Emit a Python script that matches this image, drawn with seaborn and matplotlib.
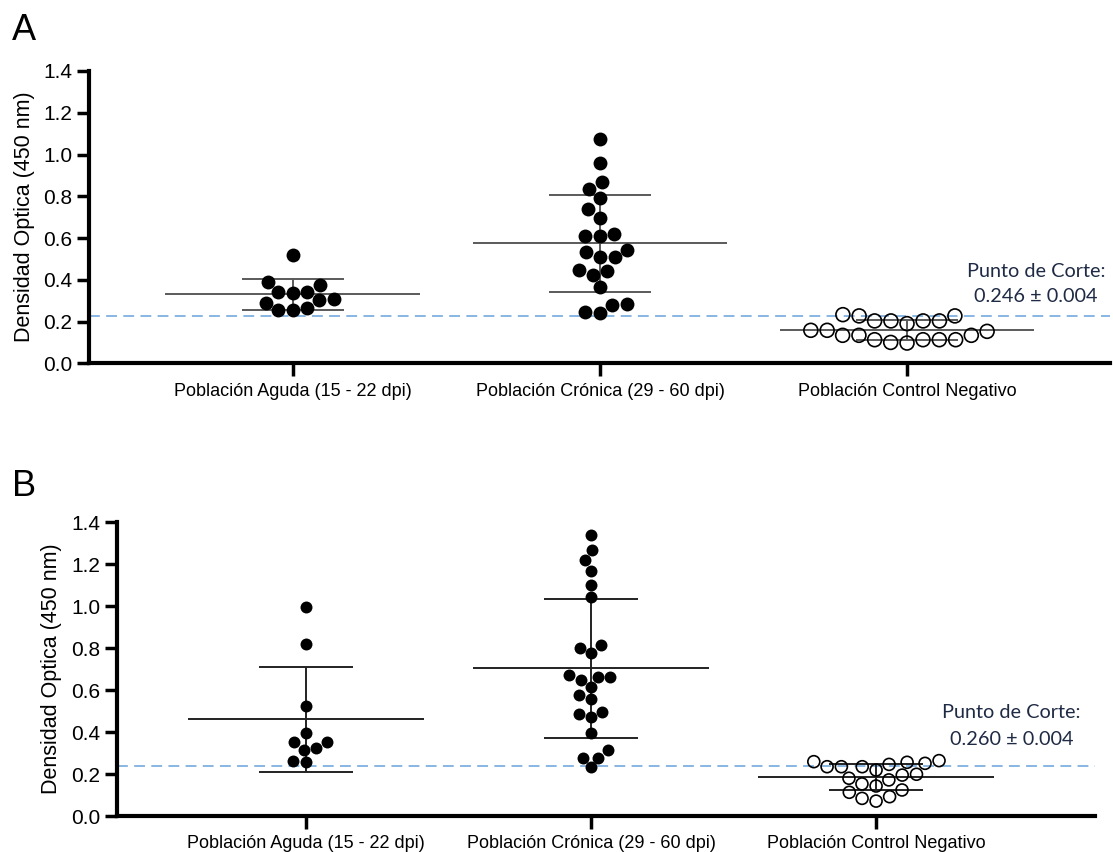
import numpy as np
import pandas as pd
import matplotlib
matplotlib.use("Agg")
import matplotlib.pyplot as plt
import seaborn as sns

# grupos y valores (densidad optica, 450 nm)
grupos = [
    "Población Aguda (15 - 22 dpi)",
    "Población Crónica (29 - 60 dpi)",
    "Población Control Negativo",
]

aguda_a = [0.52, 0.302, 0.289, 0.374, 0.264, 0.342, 0.307, 0.39, 0.257, 0.34, 0.337, 0.254]
cronica_a = [1.072, 0.957, 0.868, 0.836, 0.791, 0.737, 0.698, 0.61, 0.617, 0.61, 0.542,
             0.51, 0.51, 0.534, 0.425, 0.446, 0.443, 0.366, 0.283, 0.281, 0.246, 0.243]
control_a = [0.113, 0.113, 0.113, 0.227, 0.203, 0.158, 0.203, 0.113, 0.203, 0.153,
             0.233, 0.134, 0.203, 0.158, 0.227, 0.134, 0.19, 0.097, 0.134, 0.10]

aguda_b = [0.998, 0.818, 0.526, 0.397, 0.351, 0.351, 0.323, 0.315, 0.262, 0.259]
cronica_b = [1.341, 1.268, 1.22, 1.169, 1.102, 1.045, 0.815, 0.802, 0.778, 0.664, 0.648,
             0.672, 0.664, 0.616, 0.556, 0.577, 0.497, 0.473, 0.486, 0.397, 0.315,
             0.278, 0.275, 0.232]
control_b = [0.251, 0.246, 0.235, 0.219, 0.256, 0.264, 0.259, 0.235, 0.235, 0.195,
             0.18, 0.199, 0.172, 0.143, 0.153, 0.124, 0.113, 0.092, 0.084, 0.071]

corte_a = 0.228
corte_b = 0.238
texto_corte_a = "0.246 ± 0.004"
texto_corte_b = "0.260 ± 0.004"
y_ticks = [0.0, 0.2, 0.4, 0.6, 0.8, 1.0, 1.2, 1.4]

sns.set_style("ticks", {"axes.edgecolor": "black", "text.color": "black",
                        "axes.labelcolor": "black", "xtick.color": "black",
                        "ytick.color": "black"})
plt.rcParams["font.family"] = ["Liberation Sans", "DejaVu Sans"]


def plot_panel(ax, valores, corte, texto, line_color, marker_size, xlim, texto_x, texto_y):
    df = pd.DataFrame({
        "grupo": np.repeat(grupos, [len(v) for v in valores]),
        "valor": np.concatenate(valores),
    })
    sns.swarmplot(data=df, x="grupo", y="valor", order=grupos, color="black",
                  size=marker_size, ax=ax, zorder=3, warn_thresh=1)
    # control negativo con circulos vacios
    col = ax.collections[2]
    col.set_facecolor("none")
    col.set_edgecolor("black")
    col.set_linewidth(1.2)

    # media +- desviacion estandar
    stats = df.groupby("grupo")["valor"].agg(["mean", "std"]).reindex(grupos)
    for i, g in enumerate(grupos):
        m, s = stats.loc[g, "mean"], stats.loc[g, "std"]
        ax.hlines(m, i - 0.415, i + 0.415, color=line_color, lw=1.4, zorder=2)
        ax.vlines(i, m - s, m + s, color=line_color, lw=1.4, zorder=2)
        ax.hlines([m - s, m + s], i - 0.165, i + 0.165, color=line_color, lw=1.4, zorder=2)

    ax.axhline(corte, color="#7fb0e0", ls=(0, (6, 3.5)), lw=1.3, zorder=1)
    ax.text(texto_x, texto_y[0], "Punto de Corte:", ha="center", va="center",
            fontsize=14.3, color="#1f2a44", family=["Lato", "DejaVu Sans"])
    ax.text(texto_x, texto_y[1], texto, ha="center", va="center",
            fontsize=14.3, color="#1f2a44", family=["Lato", "DejaVu Sans"])

    ax.set_ylim(0, 1.4)
    ax.set_xlim(*xlim)
    ax.set_yticks(y_ticks)
    ax.set_yticklabels([f"{t:.1f}" for t in y_ticks], fontsize=15)
    ax.tick_params(axis="x", labelsize=13, length=9, width=2.5, pad=5)
    ax.tick_params(axis="y", length=9, width=2.5, pad=3)
    ax.set_xlabel("")
    ax.set_ylabel("Densidad Optica (450 nm)", fontsize=15.5, labelpad=6)
    sns.despine(ax=ax)
    for side in ["left", "bottom"]:
        ax.spines[side].set_linewidth(3)


fig = plt.figure(figsize=(11.13, 8.52), dpi=100)
ax_a = fig.add_axes([89 / 1113, 1 - 363.3 / 852, (1110 - 89) / 1113, (363.3 - 71) / 852])
ax_b = fig.add_axes([116.7 / 1113, 1 - 816 / 852, (1095 - 116.7) / 1113, (816 - 522.3) / 852])

plot_panel(ax_a, [aguda_a, cronica_a, control_a], corte_a, texto_corte_a, "#5a5a5a", 10,
           (-0.664, 2.661), 2.42, (0.44, 0.32))
plot_panel(ax_b, [aguda_b, cronica_b, control_b], corte_b, texto_corte_b, "#222222", 8.6,
           (-0.664, 2.768), 2.475, (0.493, 0.365))

fig.text(0.011, 0.985, "A", fontsize=26, va="top")
fig.text(0.011, 0.449, "B", fontsize=26, va="top")

fig.savefig("out.png", dpi=100)
